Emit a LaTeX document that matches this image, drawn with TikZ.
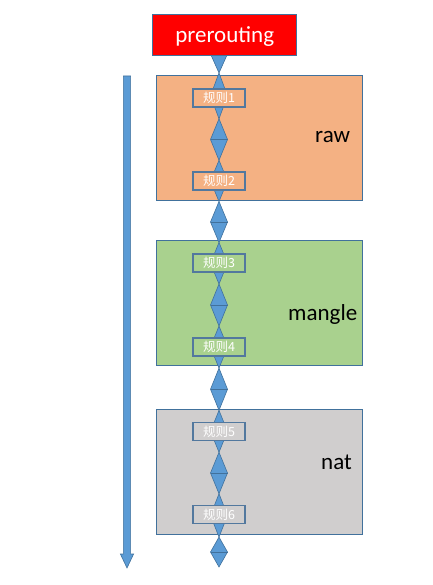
\documentclass[tikz,border=0pt]{standalone}
\usepackage{fontspec}
\setmainfont{Carlito}
\newfontfamily\cjk{Noto Sans CJK SC}
\usetikzlibrary{calc}
\definecolor{dblue}{HTML}{5B9BD5}
\definecolor{dline}{HTML}{41719C}
\definecolor{rline}{HTML}{52789E}
\definecolor{rawc}{HTML}{F4B183}
\definecolor{manc}{HTML}{A9D18E}
\definecolor{natc}{HTML}{D0CECE}
\pgfdeclarelayer{bg}
\pgfdeclarelayer{mid}
\pgfsetlayers{bg,mid,main}
\newcommand\dmdseg[2]{%
  \filldraw[dmd] (#1) -- ($(#1)!0.5!(#2)+(-8.5,0)$) -- (#2) -- ($(#1)!0.5!(#2)+(8.5,0)$) -- cycle;
  \draw[dmd,fill=none] ($(#1)!0.5!(#2)+(-8.5,0)$) -- ($(#1)!0.5!(#2)+(8.5,0)$);
}
\begin{document}
\begin{tikzpicture}[x=1pt,y=-1pt,
  dmd/.style={fill=dblue,draw=dline,line width=0.6pt,line join=miter},
  tablebox/.style={draw=dline,line width=0.9pt,minimum width=205.5pt,minimum height=125pt,inner sep=0pt},
  rulebox/.style={draw=rline,line width=1.3pt,minimum width=52pt,minimum height=18pt,inner sep=0pt,text=white,font=\cjk\fontsize{12.5}{14}\selectfont},
  tname/.style={anchor=base west,font=\fontsize{23}{27}\selectfont,text=black,inner sep=0pt}]
\useasboundingbox (0,0) rectangle (432,585);
\begin{pgfonlayer}{bg}
\node[tablebox,fill=rawc] (raw) at (259.25,138) {};
\node[tablebox,fill=manc] (mangle) at (259.25,302.75) {};
\node[tablebox,fill=natc] (nat) at (259.5,471.75) {};
\end{pgfonlayer}
\node[tname] (rawl) at (315,143) {raw};
\node[tname] (mangl) at (288,320) {mangle};
\node[tname] (natl) at (321,469) {nat};
\node[draw=dline,line width=0.9pt,fill=red,minimum width=144pt,minimum height=41.4pt,inner sep=0pt,text height=17pt,text depth=1pt,text=white,font=\fontsize{23}{27}\selectfont] (pre) at (224.7,35) {prerouting};
\node[rulebox,fill=rawc] (r1) at (219,98) {规则1};
\node[rulebox,fill=rawc] (r2) at (219,181) {规则2};
\node[rulebox,fill=manc] (r3) at (219,263) {规则3};
\node[rulebox,fill=manc] (r4) at (219,347) {规则4};
\node[rulebox,fill=natc] (r5) at (219,431.5) {规则5};
\node[rulebox,fill=natc] (r6) at (219,514.5) {规则6};
\coordinate (fin) at (219,567);
\begin{pgfonlayer}{mid}
\coordinate (p0) at (pre.center -| r1);
\coordinate (p1) at ($(pre.south -| r1)!0.4!(r1)$);
\coordinate (t12) at ($(r1)!0.25!(r2)$);
\coordinate (b12) at ($(r1)!0.75!(r2)$);
\coordinate (t23) at ($(r2)!0.25!(r3)$);
\coordinate (b23) at ($(r2)!0.75!(r3)$);
\coordinate (t34) at ($(r3)!0.25!(r4)$);
\coordinate (b34) at ($(r3)!0.75!(r4)$);
\coordinate (t45) at ($(r4)!0.25!(r5)$);
\coordinate (b45) at ($(r4)!0.75!(r5)$);
\coordinate (t56) at ($(r5)!0.25!(r6)$);
\coordinate (b56) at ($(r5)!0.75!(r6)$);
\coordinate (t6f) at ($(r6)!0.43!(fin)$);
\dmdseg{p0}{p1}
\dmdseg{p1}{t12}
\dmdseg{t12}{b12}
\dmdseg{b12}{t23}
\dmdseg{t23}{b23}
\dmdseg{b23}{t34}
\dmdseg{t34}{b34}
\dmdseg{b34}{t45}
\dmdseg{t45}{b45}
\dmdseg{b45}{t56}
\dmdseg{t56}{b56}
\dmdseg{b56}{t6f}
\dmdseg{t6f}{fin}
\end{pgfonlayer}
\coordinate (flowtop) at (127,76);
\coordinate (flowtip) at (127,568);
\filldraw[fill=dblue,draw=dline,line width=0.6pt,line join=miter]
  ($(flowtop)+(-3.6,0)$) -- ($(flowtop)+(3.6,0)$) -- ($(flowtip)+(3.6,-14)$) -- ($(flowtip)+(6.6,-14)$)
  -- (flowtip) -- ($(flowtip)+(-6.6,-14)$) -- ($(flowtip)+(-3.6,-14)$) -- cycle;
\end{tikzpicture}
\end{document}
